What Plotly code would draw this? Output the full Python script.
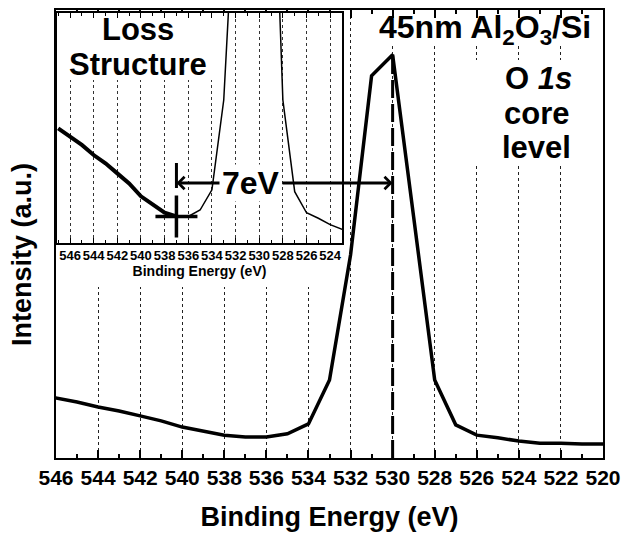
import plotly.graph_objects as go

# ---------------- data ----------------
binding_energy = [547, 546, 545, 544, 543, 542, 541, 540, 539, 538, 537, 536, 535, 534,
                  533, 532, 531, 530, 529, 528, 527, 526, 525, 524, 523, 522, 521, 520]
intensity = [14.3, 13.4, 12.5, 11.4, 10.5, 9.4, 8.3, 6.9, 6.0, 5.1, 4.7, 4.7, 5.4, 7.6,
             17.4, 45.3, 85.3, 90.0, 53.8, 17.4, 7.4, 5.1, 4.5, 3.8, 3.3, 3.3, 3.1, 3.1]
main_ticks = list(range(546, 519, -2))
inset_ticks = list(range(546, 523, -2))
loss_onset = 537      # eV, onset of loss structure
peak_be = 530         # eV, O 1s peak
loss_text = "7eV"

# ---------------- geometry helpers ----------------
W, H = 623, 533
L, R, T, B = 56, 20, 10, 75
PW, PH = W - L - R, H - T - B
main_xr = [546, 520]
main_yr = [0, 100]
inset_xr = [547.1, 523.0]
inset_yr = [1.8, 26.9]
inset_px = (57, 342)       # left, right (pixels)
inset_py = (13, 243)       # top, bottom (pixels)

def px(x):
    return (x - L) / PW
def py(y):
    return (H - B - y) / PH
# pixel -> data converters
def mx(xp):
    return main_xr[0] + (xp - L) / PW * (main_xr[1] - main_xr[0])
def my(yp):
    return main_yr[0] + (H - B - yp) / PH * (main_yr[1] - main_yr[0])
def ixd(xp):
    return inset_xr[0] + (xp - inset_px[0]) / (inset_px[1] - inset_px[0]) * (inset_xr[1] - inset_xr[0])
def iyd(yp):
    return inset_yr[0] + (inset_py[1] - yp) / (inset_py[1] - inset_py[0]) * (inset_yr[1] - inset_yr[0])

FONT = "Liberation Sans, Arial, sans-serif"
peak_val = intensity[binding_energy.index(peak_be)]
onset_val = intensity[binding_energy.index(loss_onset)]

fig = go.Figure()

# main curve
fig.add_trace(go.Scatter(x=binding_energy, y=intensity, mode="lines",
                         line=dict(color="black", width=3.5),
                         xaxis="x", yaxis="y", showlegend=False, hoverinfo="skip"))
# dashed line at the peak
fig.add_trace(go.Scatter(x=[peak_be, peak_be], y=[0, peak_val], mode="lines",
                         line=dict(color="black", width=3, dash="18px,6px"),
                         xaxis="x", yaxis="y", showlegend=False, hoverinfo="skip"))

# inset curves
thin_x = [e for e in binding_energy if e <= loss_onset]
thin_y = [v for e, v in zip(binding_energy, intensity) if e <= loss_onset]
thick_x = [e for e in binding_energy if e >= loss_onset]
thick_y = [v for e, v in zip(binding_energy, intensity) if e >= loss_onset]
fig.add_trace(go.Scatter(x=thin_x, y=thin_y, mode="lines",
                         line=dict(color="black", width=1.5),
                         xaxis="x2", yaxis="y2", showlegend=False, hoverinfo="skip"))
fig.add_trace(go.Scatter(x=thick_x, y=thick_y, mode="lines",
                         line=dict(color="black", width=4),
                         xaxis="x2", yaxis="y2", showlegend=False, hoverinfo="skip"))
fig.add_trace(go.Scatter(x=[loss_onset], y=[onset_val], mode="markers",
                         marker=dict(symbol="cross-thin", size=30,
                                     line=dict(color="black", width=3.5)),
                         xaxis="x2", yaxis="y2", showlegend=False, hoverinfo="skip"))

axis_common = dict(showline=True, linecolor="black", mirror="ticks", zeroline=False,
                   automargin=False)

fig.update_layout(
    width=W, height=H,
    margin=dict(l=L, r=R, t=T, b=B),
    paper_bgcolor="white", plot_bgcolor="white",
    showlegend=False,
    xaxis=dict(domain=[0, 1], range=main_xr, tickvals=main_ticks,
               ticks="inside", ticklen=8, tickwidth=1.5, tickcolor="black",
               linewidth=2, tickangle=0,
               minor=dict(dtick=1, ticks="inside", ticklen=4, tickwidth=1.5, tickcolor="black", showgrid=False),
               showgrid=True, gridcolor="#222", gridwidth=1, griddash="dot",
               tickfont=dict(family=FONT, size=21, color="black", weight="bold"),
               title=dict(text="Binding Energy (eV)", standoff=19,
                          font=dict(family=FONT, size=27, color="black", weight="bold")),
               **axis_common),
    yaxis=dict(domain=[0, 1], range=main_yr, showticklabels=False, ticks="",
               showgrid=False, linewidth=2, **axis_common),
    xaxis2=dict(domain=[px(inset_px[0]), px(inset_px[1])], anchor="y2", range=inset_xr,
                tickvals=inset_ticks, ticks="inside", ticklen=5, tickwidth=1, tickcolor="black",
                linewidth=1.5, tickangle=0,
                minor=dict(dtick=1, ticks="inside", ticklen=3, tickwidth=1, tickcolor="black", showgrid=False),
                showgrid=True, gridcolor="#333", gridwidth=1, griddash="dot",
                tickfont=dict(family=FONT, size=13, color="black", weight="bold"),
                title=dict(text="Binding Energy (eV)", standoff=2,
                           font=dict(family=FONT, size=14, color="black", weight="bold")),
                **axis_common),
    yaxis2=dict(domain=[py(inset_py[1]), py(inset_py[0])], anchor="x2",
                range=inset_yr, showticklabels=False, ticks="",
                showgrid=False, linewidth=1.5, **axis_common),
)

# white boxes hiding gridlines behind the inset and the labels (pixel boxes -> data coords)
def white_box(xref, yref, x0, x1, y0, y1):
    fig.add_shape(type="rect", xref=xref, yref=yref, x0=x0, x1=x1, y0=y0, y1=y1,
                  fillcolor="white", line=dict(width=0), layer="between")

white_box("x", "y", mx(L - 2), mx(344), my(287), my(T - 2))
white_box("x", "y", mx(375), mx(596), my(46), my(T - 2))
white_box("x", "y", mx(470), mx(578), my(166), my(60))
white_box("x2", "y2", ixd(inset_px[0] - 2), ixd(216), iyd(80), iyd(inset_py[0] - 2))

# vertical bar at the loss onset
fig.add_shape(type="line", xref="x2", yref="y2", x0=loss_onset, x1=loss_onset,
              y0=iyd(188), y1=iyd(163), line=dict(color="black", width=3))

# arrows
arrow_px = 183
fig.add_annotation(xref="x2", yref="y2", axref="x2", ayref="y2",
                   x=loss_onset, y=iyd(arrow_px), ax=ixd(221), ay=iyd(arrow_px),
                   text="", showarrow=True, arrowhead=4, arrowsize=0.8, arrowwidth=3,
                   arrowcolor="black", standoff=0)
fig.add_annotation(xref="x", yref="y", axref="x", ayref="y",
                   x=peak_be, y=my(arrow_px), ax=mx(281), ay=my(arrow_px),
                   text="", showarrow=True, arrowhead=4, arrowsize=0.8, arrowwidth=3,
                   arrowcolor="black", standoff=0)

def label(text, xpx, ypx, size, bg=None, angle=0):
    kw = dict(bgcolor=bg) if bg else {}
    fig.add_annotation(xref="paper", yref="paper", x=px(xpx), y=py(ypx), text=text,
                       showarrow=False, xanchor="center", yanchor="middle", borderpad=0,
                       textangle=angle,
                       font=dict(family=FONT, size=size, color="black", weight="bold"), **kw)

label("Intensity (a.u.)", 22, 255, 27, angle=-90)
label(loss_text, 251, 183, 32, bg="white")
label("Loss", 138, 29, 31)
label("Structure", 138, 64, 31)
label("45nm Al<sub>2</sub>O<sub>3</sub>/Si", 485, 29, 32)
label("O <i>1s</i>", 538, 78, 31)
label("core", 536, 113, 31)
label("level", 536, 147, 31)

fig.write_html("out.html")
